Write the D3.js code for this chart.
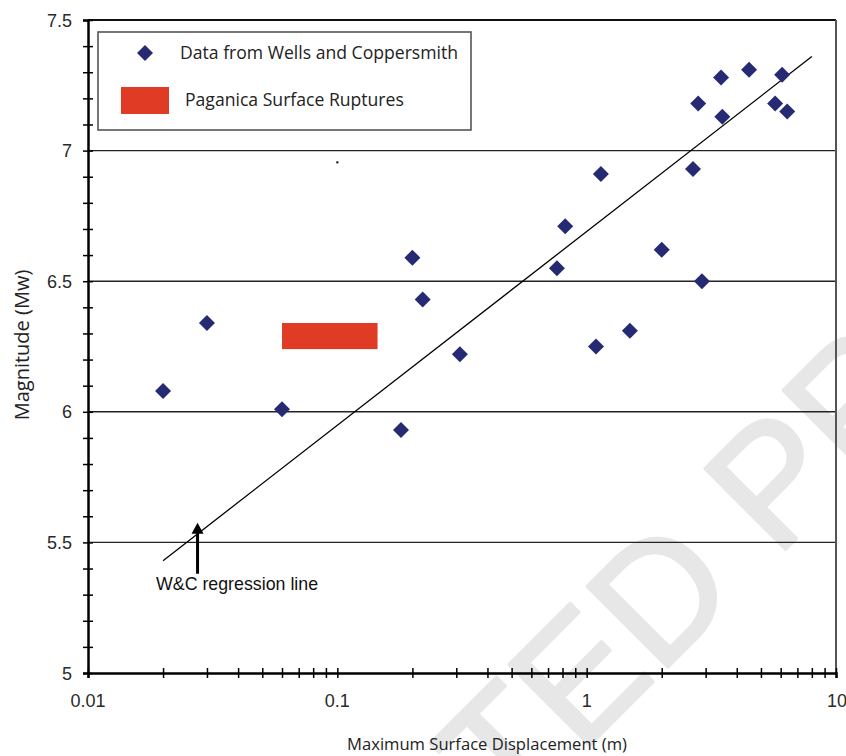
<!DOCTYPE html>
<html>
<head>
<meta charset="utf-8">
<script src="https://cdn.jsdelivr.net/npm/d3@7"></script>
<style>
  html, body { margin: 0; padding: 0; background: white; }
  #container { width: 846px; height: 756px; }
</style>
</head>
<body>
<div id="container"></div>
<script>
// Wells & Coppersmith data: max surface displacement (m) vs magnitude
let wcDisp = [0.02, 0.03, 0.06, 0.18, 0.20, 0.22, 0.31, 0.76, 0.82, 1.09, 1.14, 1.49, 2.0, 2.67, 2.8, 2.9, 3.46, 3.5, 4.48, 5.7, 6.08, 6.37];
let wcMag  = [6.08, 6.34, 6.01, 5.93, 6.59, 6.43, 6.22, 6.55, 6.71, 6.25, 6.91, 6.31, 6.62, 6.93, 7.18, 6.50, 7.28, 7.13, 7.31, 7.18, 7.29, 7.15];

// Paganica surface ruptures (displacement range, magnitude range)
let pagDisp = [0.06, 0.145];
let pagMag  = [6.24, 6.34];

// W&C regression line end points
let regDisp = [0.02, 8];
let regMag  = [5.43, 7.36];

let yMajor = [5, 5.5, 6, 6.5, 7, 7.5];
let yLabels = ['5', '5.5', '6', '6.5', '7', '7.5'];
let xMajor = [0.01, 0.1, 1, 10];
let xLabels = ['0.01', '0.1', '1', '10'];
let gridVals = [5.5, 6, 6.5, 7];

let w = 846,
    h = 756,
    padL = 88, padR = 836, padT = 20, padB = 673;

let viz = d3.select('#container')
    .append('svg')
      .attr('width', w)
      .attr('height', h)
      .style('background', 'white');

let x = d3.scaleLog().domain([0.01, 10]).range([padL, padR]);
let y = d3.scaleLinear().domain([5, 7.5]).range([padB, padT]);

function main() {
    // watermark behind everything
    let wm = viz.append('g')
        .attr('font-family', 'Liberation Sans, Arial, sans-serif')
        .attr('font-size', 166)
        .attr('fill', '#e7e7e8')
        .attr('stroke', '#e7e7e8')
        .attr('stroke-width', 3)
        .attr('stroke-linejoin', 'round');
    wm.append('text')
        .attr('transform', 'translate(776,559) rotate(-45)')
        .text('PROOF');
    wm.append('text')
        .attr('transform', 'translate(743,592) rotate(-45)')
        .attr('text-anchor', 'end')
        .text('UNCORRECTED');

    // gridlines
    viz.append('g').selectAll('line')
        .data(gridVals)
        .enter().append('line')
          .attr('x1', padL).attr('x2', padR)
          .attr('y1', d => y(d)).attr('y2', d => y(d))
          .attr('stroke', '#222')
          .attr('stroke-width', 1.4);

    // top and right border
    viz.append('line')
        .attr('x1', padL).attr('x2', padR)
        .attr('y1', y(7.5)).attr('y2', y(7.5))
        .attr('stroke', '#111').attr('stroke-width', 1.8);
    viz.append('line')
        .attr('x1', padR).attr('x2', padR)
        .attr('y1', padT).attr('y2', padB)
        .attr('stroke', '#555').attr('stroke-width', 2);

    // y axis, minor ticks every 0.1 crossing the axis
    let yMinor = d3.range(50, 76).map(d => d / 10);
    let yAxis = viz.append('g')
        .attr('transform', 'translate(' + padL + ',0)')
        .call(d3.axisLeft(y).tickValues(yMinor).tickSize(5).tickFormat(''));
    yAxis.select('.domain').attr('stroke', '#000').attr('stroke-width', 2.5);
    yAxis.selectAll('.tick line').attr('x1', 5).attr('stroke-width', 1.5);

    // x axis, log ticks crossing the axis
    let xMinor = [];
    [0.01, 0.1, 1].forEach(function(dec) {
        for (let k = 1; k <= 9; k++) xMinor.push(dec * k);
    });
    xMinor.push(10);
    let xAxis = viz.append('g')
        .attr('transform', 'translate(0,' + padB + ')')
        .call(d3.axisBottom(x).tickValues(xMinor).tickSize(5).tickFormat(''));
    xAxis.select('.domain').attr('stroke', '#000').attr('stroke-width', 2.5);
    xAxis.selectAll('.tick line').attr('y1', -5).attr('stroke-width', 1.5);

    // tick labels
    let labels = viz.append('g')
        .attr('font-family', 'Liberation Sans, Arial, sans-serif')
        .attr('font-size', 18)
        .attr('fill', '#2a2a2a');
    labels.selectAll('.ylab')
        .data(yMajor)
        .enter().append('text')
          .attr('x', 72)
          .attr('y', d => y(d) + 6.5)
          .attr('text-anchor', 'end')
          .text((d, i) => yLabels[i]);
    labels.selectAll('.xlab')
        .data(xMajor)
        .enter().append('text')
          .attr('x', d => x(d))
          .attr('y', 707)
          .attr('text-anchor', d => d === 10 ? 'end' : 'middle')
          .attr('dx', d => d === 10 ? 11 : 0)
          .text((d, i) => xLabels[i]);

    // axis titles
    let titles = viz.append('g')
        .attr('font-family', 'Open Sans, Noto Sans, sans-serif')
        .attr('fill', '#222');
    titles.append('text')
        .attr('x', 487)
        .attr('y', 750)
        .attr('font-size', 16.6)
        .attr('text-anchor', 'middle')
        .text('Maximum Surface Displacement (m)');
    titles.append('text')
        .attr('transform', 'translate(29,345) rotate(-90)')
        .attr('font-size', 20)
        .attr('text-anchor', 'middle')
        .text('Magnitude (Mw)');

    // regression line
    viz.append('line')
        .attr('x1', x(regDisp[0])).attr('y1', y(regMag[0]))
        .attr('x2', x(regDisp[1])).attr('y2', y(regMag[1]))
        .attr('stroke', '#000')
        .attr('stroke-width', 1.3);

    // Paganica box
    viz.append('rect')
        .attr('x', x(pagDisp[0]))
        .attr('y', y(pagMag[1]))
        .attr('width', x(pagDisp[1]) - x(pagDisp[0]))
        .attr('height', y(pagMag[0]) - y(pagMag[1]))
        .attr('fill', '#e03c25');

    // W&C points
    let diamond = 'M0,-8L8,0L0,8L-8,0Z';
    viz.append('g').selectAll('path')
        .data(wcDisp)
        .enter().append('path')
          .attr('d', diamond)
          .attr('transform', (d, i) => 'translate(' + x(d) + ',' + y(wcMag[i]) + ')')
          .attr('fill', '#262a72');

    // stray speck
    viz.append('rect')
        .attr('x', x(0.1) - 1).attr('y', y(6.955) - 1)
        .attr('width', 2).attr('height', 2)
        .attr('fill', '#000');

    // arrow annotation
    viz.append('line')
        .attr('x1', x(0.0275)).attr('x2', x(0.0275))
        .attr('y1', y(5.38)).attr('y2', y(5.535))
        .attr('stroke', '#000').attr('stroke-width', 3);
    let ax = x(0.0275), ay = y(5.575);
    viz.append('path')
        .attr('d', 'M' + ax + ',' + ay + 'L' + (ax + 6) + ',' + (ay + 11) + 'L' + (ax - 6) + ',' + (ay + 11) + 'Z')
        .attr('fill', '#000');
    viz.append('text')
        .attr('x', 156)
        .attr('y', 590)
        .attr('font-family', 'Liberation Sans, Arial, sans-serif')
        .attr('font-size', 17.8)
        .attr('fill', '#111')
        .text('W&C regression line');

    // legend
    let legend = viz.append('g');
    legend.append('rect')
        .attr('x', 98).attr('y', 32)
        .attr('width', 373).attr('height', 98)
        .attr('fill', 'white')
        .attr('stroke', '#555')
        .attr('stroke-width', 1.6);
    legend.append('path')
        .attr('d', diamond)
        .attr('transform', 'translate(145,53)')
        .attr('fill', '#262a72');
    legend.append('rect')
        .attr('x', 121).attr('y', 87)
        .attr('width', 48).attr('height', 27)
        .attr('fill', '#e03c25');
    let legText = legend.append('g')
        .attr('font-family', 'Open Sans, Noto Sans, sans-serif')
        .attr('font-size', 17.6)
        .attr('fill', '#222');
    legText.append('text').attr('x', 180).attr('y', 59).text('Data from Wells and Coppersmith');
    legText.append('text').attr('x', 185).attr('y', 106).text('Paganica Surface Ruptures');
}

main();
</script>
</body>
</html>
